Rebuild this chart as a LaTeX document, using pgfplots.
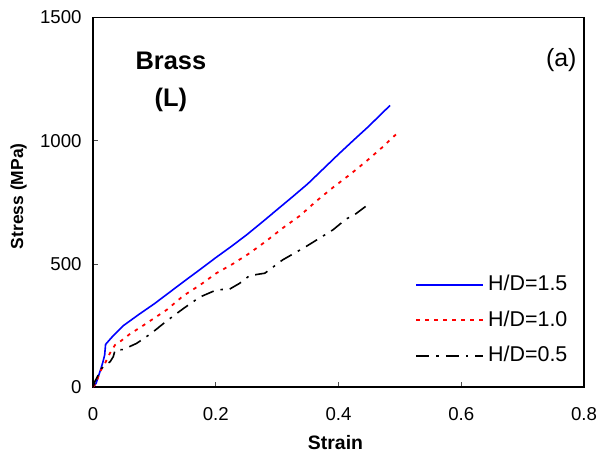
\documentclass[border=0pt]{standalone}
\usepackage{pgfplots}
\pgfplotsset{compat=1.18}
\usepackage{fontspec}
\setmainfont{Liberation Sans}
\begin{document}
\begin{tikzpicture}
\begin{axis}[
  scale only axis,
  width=491bp, height=369.5bp,
  xmin=0, xmax=0.8, ymin=0, ymax=1500,
  xtick={0,0.2,0.4,0.6,0.8},
  ytick={0,500,1000,1500},
  xticklabels={0,0.2,0.4,0.6,0.8},
  yticklabels={0,500,1000,1500},
  tick align=inside,
  xtick pos=bottom, ytick pos=left,
  major tick length=5bp,
  axis line style={line width=1.2bp},
  tick style={line width=0.6bp, color=black!70},
  ticklabel style={font=\fontsize{18.7}{21}\selectfont},
  xticklabel style={yshift=-17bp},
  yticklabel style={xshift=-8bp},
  xlabel={\bfseries Strain},
  ylabel={\bfseries Stress (MPa)},
  xlabel style={font=\fontsize{19.5}{22}\selectfont, at={(axis description cs:0.5,0)}, anchor=center, yshift=-56bp, xshift=-3bp},
  ylabel style={font=\fontsize{17.5}{20}\selectfont, at={([xshift=-74.5bp,yshift=6bp]axis description cs:0,0.5)}, anchor=center},
  clip=false,
  legend cell align=left,
  legend image code/.code={\draw[#1] (0bp,0bp) -- (67bp,0bp);},
  legend style={draw=none, fill=none, inner sep=0pt, row sep=14bp,
    font=\fontsize{21.5}{24}\selectfont,
    nodes={inner sep=1bp, text height=15.5bp, text depth=4bp},
    /tikz/every odd column/.style={column sep=3bp},
    at={(axis cs:0.525,459)}, anchor=north west},
]
\addplot[blue, line width=1.6bp] coordinates {
(0,0)(0.005,15)(0.011,60)(0.013,75)(0.016,100)(0.019,130)(0.0205,173)(0.03,200)(0.04,226)(0.05,250)(0.075,295)(0.1,338)(0.125,385)(0.15,432)(0.175,478)(0.2,525)(0.225,570)(0.25,617)(0.275,668)(0.3,720)(0.325,772)(0.35,825)(0.375,885)(0.4,945)(0.425,1003)(0.45,1060)(0.465,1097)(0.484,1143)
};
\addlegendentry{H/D=1.5}
\addplot[red, line width=1.8bp, dash pattern=on 3.5bp off 5.5bp] coordinates {
(0,0)(0.005,15)(0.011,60)(0.0195,96)(0.0276,137)(0.036,171)(0.044,184)(0.06,215)(0.079,245)(0.1,280)(0.12,313)(0.147,370)(0.175,415)(0.201,462)(0.228,500)(0.255,543)(0.282,592)(0.309,645)(0.337,695)(0.364,755)(0.391,810)(0.42,865)(0.445,916)(0.47,970)(0.496,1031)
};
\addlegendentry{H/D=1.0}
\addplot[black, line width=1.6bp, dash pattern=on 13bp off 7bp on 2.5bp off 7bp] coordinates {
(0,0)(0.003,22)(0.014,76)(0.028,103)(0.033,123)(0.036,150)(0.049,152)(0.071,177)(0.095,218)(0.12,268)(0.147,318)(0.174,365)(0.201,394)(0.223,398)(0.239,421)(0.255,452)(0.28,462)(0.309,516)(0.347,570)(0.391,638)(0.4125,682)(0.426,699)(0.448,740)
};
\addlegendentry{H/D=0.5}
\node[font=\fontsize{25.5}{28}\selectfont\bfseries] at (axis cs:0.127,1325) {Brass};
\node[font=\fontsize{25.5}{28}\selectfont\bfseries] at (axis cs:0.127,1167) {(L)};
\node[font=\fontsize{25}{28}\selectfont] at (axis cs:0.763,1329) {(a)};
\end{axis}
\pgfresetboundingbox
\useasboundingbox (current axis.south west) ++(-93bp,-70bp) rectangle ++(597bp,457bp);
\end{tikzpicture}
\end{document}
